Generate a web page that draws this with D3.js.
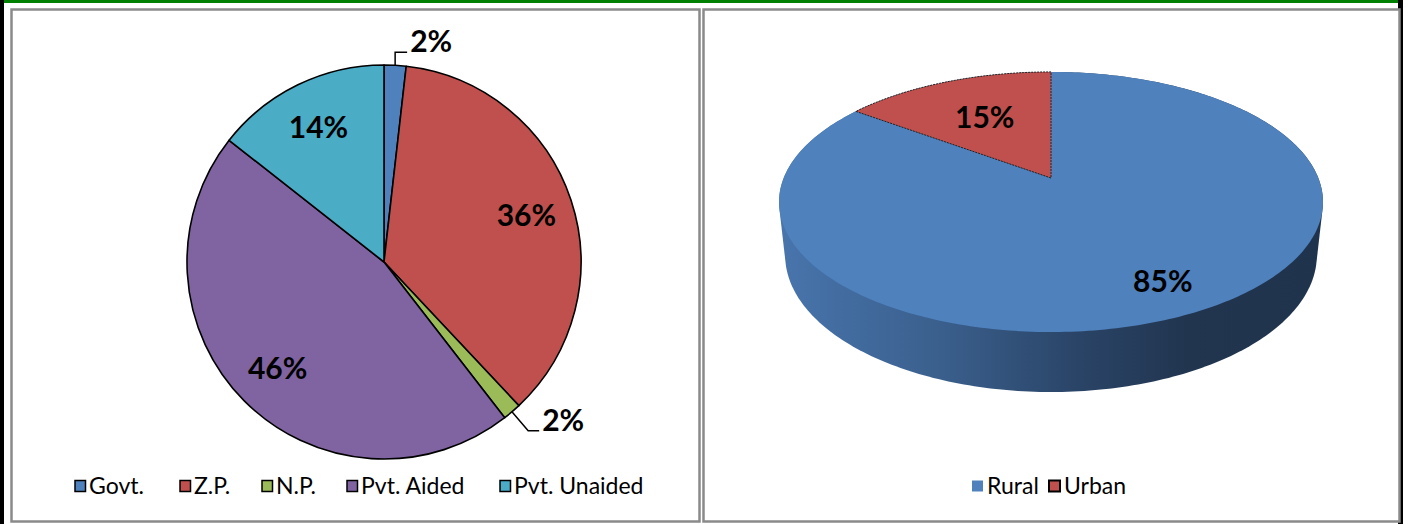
<!DOCTYPE html>
<html>
<head>
<meta charset="utf-8">
<script src="https://cdn.jsdelivr.net/npm/d3@7"></script>
<style>
  html, body { margin: 0; padding: 0; background: #ffffff; }
  svg { display: block; }
</style>
</head>
<body>
<script>
// ---------- data ----------
const schoolCategories = ["Govt.", "Z.P.", "N.P.", "Pvt. Aided", "Pvt. Unaided"];
const schoolValues = [1.8, 36.2, 1.5, 46.1, 14.4];
const schoolLabels = ["2%", "36%", "2%", "46%", "14%"];

const areaCategories = ["Rural", "Urban"];
const areaValues = [85, 15];
const areaLabels = ["85%", "15%"];

// ---------- styles ----------
const schoolColors = ["#4F81BD", "#C0504D", "#9BBB59", "#8064A2", "#4BACC6"];
const areaColors = ["#4F81BD", "#C0504D"];
const FONT = "Lato, 'Open Sans', sans-serif";

const W = 1428, H = 524;
const svg = d3.select("body").append("svg").attr("width", W).attr("height", H);

// frame decorations
svg.append("rect").attr("x", 0).attr("y", 0).attr("width", 1398).attr("height", 3).attr("fill", "#008000");
svg.append("rect").attr("x", 0).attr("y", 0).attr("width", 4).attr("height", H).attr("fill", "#000");
svg.append("rect").attr("x", 1398).attr("y", 0).attr("width", 5).attr("height", H).attr("fill", "#000");
svg.append("rect").attr("x", 11.5).attr("y", 9.5).attr("width", 688).attr("height", 512)
  .attr("fill", "#fff").attr("stroke", "#8a8a8a").attr("stroke-width", 2.5);
svg.append("rect").attr("x", 703.5).attr("y", 9.5).attr("width", 696).attr("height", 512)
  .attr("fill", "#fff").attr("stroke", "#8a8a8a").attr("stroke-width", 2.5);

// ---------- left 2D pie ----------
const cx1 = 384, cy1 = 262, R1 = 197;
const pie1 = d3.pie().sort(null).value(d => d)(schoolValues);
const arc1 = d3.arc().innerRadius(0).outerRadius(R1);
const labelArc1 = d3.arc().innerRadius(150).outerRadius(150);
const g1 = svg.append("g").attr("transform", `translate(${cx1},${cy1})`);
g1.selectAll("path.slice").data(pie1).enter().append("path")
  .attr("class", "slice")
  .attr("d", arc1)
  .attr("fill", (d, i) => schoolColors[i])
  .attr("stroke", "#000").attr("stroke-width", 1.6).attr("stroke-linejoin", "round");

const total1 = d3.sum(schoolValues);
pie1.forEach((d, i) => {
  const mid = (d.startAngle + d.endAngle) / 2;
  const share = d.value / total1;
  if (share > 0.05) {
    const c = labelArc1.centroid(d);
    g1.append("text").attr("x", c[0]).attr("y", c[1]).attr("dy", "0.36em")
      .attr("text-anchor", "middle").attr("font-family", FONT).attr("font-weight", 700)
      .attr("font-size", 30).attr("fill", "#000").text(schoolLabels[i]);
  } else {
    const ex = Math.sin(mid) * R1, ey = -Math.cos(mid) * R1;
    let p1, p2;
    if (Math.cos(mid) > 0) { // upper half: straight up, then right
      p1 = [ex, ey - 13];
      p2 = [ex + 12, ey - 13];
    } else { // lower half: outward, then right
      p1 = [ex + Math.sin(mid) * 25, ey - Math.cos(mid) * 25];
      p2 = [p1[0] + 11, p1[1]];
    }
    g1.append("path").attr("d", d3.line()([[ex, ey], p1, p2]))
      .attr("fill", "none").attr("stroke", "#000").attr("stroke-width", 1.5);
    g1.append("text").attr("x", p2[0] + 3).attr("y", p2[1])
      .attr("text-anchor", "start").attr("font-family", FONT).attr("font-weight", 700)
      .attr("font-size", 30).attr("fill", "#000").text(schoolLabels[i]);
  }
});

// left legend
const leg1X = [75, 180, 262, 347, 500];
const legY = 486;
schoolCategories.forEach((name, i) => {
  svg.append("rect").attr("x", leg1X[i]).attr("y", legY - 5.5).attr("width", 10.5).attr("height", 11)
    .attr("fill", schoolColors[i]).attr("stroke", "#000").attr("stroke-width", 1.5);
  svg.append("text").attr("x", leg1X[i] + 14).attr("y", legY).attr("dy", "0.36em")
    .attr("font-family", FONT).attr("font-size", 23).attr("fill", "#000").text(name);
});

// ---------- right 3D pie ----------
const cx2 = 1051, cy2 = 178;
const K = 1279.6, S = 0.47, C = 0.8827, DA = C / 0.1844, TH = 0.2275;
function proj(phi, r, y) {
  const x = r * Math.sin(phi), z = r * Math.cos(phi);
  const w = DA + z * C - y * S;
  return [cx2 + K * x / w, cy2 - K * (z * S + y * C) / w];
}
const pie2 = d3.pie().sort(null).value(d => d)(areaValues);

// side wall (hull of top and bottom rims)
const rim = [];
for (let k = 0; k <= 360; k++) {
  const phi = k * Math.PI / 180;
  rim.push(proj(phi, 1, 0));
  rim.push(proj(phi, 1, -TH));
}
const hull = d3.polygonHull(rim);
const defs = svg.append("defs");
const grad = defs.append("linearGradient").attr("id", "sideGrad")
  .attr("gradientUnits", "userSpaceOnUse").attr("x1", 779).attr("y1", 0).attr("x2", 1324).attr("y2", 0);
[["0%", "#4875ad"], ["30%", "#3a5f8c"], ["55%", "#2a4467"], ["75%", "#21354f"], ["100%", "#1f334d"]]
  .forEach(s => grad.append("stop").attr("offset", s[0]).attr("stop-color", s[1]));
svg.append("path").attr("d", "M" + hull.join("L") + "Z").attr("fill", "url(#sideGrad)");

// top faces
pie2.forEach((d, i) => {
  const pts = [proj(0, 0, 0)];
  const n = Math.max(8, Math.ceil((d.endAngle - d.startAngle) * 180 / Math.PI));
  for (let k = 0; k <= n; k++) {
    pts.push(proj(d.startAngle + (d.endAngle - d.startAngle) * k / n, 1, 0));
  }
  const p = svg.append("path").attr("d", "M" + pts.join("L") + "Z").attr("fill", areaColors[i]);
  if (i === 1) p.attr("stroke", "#222").attr("stroke-width", 1).attr("stroke-dasharray", "2,1");
});

// 3D labels
pie2.forEach((d, i) => {
  const mid = (d.startAngle + d.endAngle) / 2;
  const rr = d.value / d3.sum(areaValues) > 0.5 ? 0.8 : 0.6;
  const p = proj(mid, rr, 0);
  svg.append("text").attr("x", p[0]).attr("y", p[1]).attr("dy", "0.36em")
    .attr("text-anchor", "middle").attr("font-family", FONT).attr("font-weight", 700)
    .attr("font-size", 30).attr("fill", "#000").text(areaLabels[i]);
});

// right legend
const leg2X = [972, 1049];
areaCategories.forEach((name, i) => {
  const r = svg.append("rect").attr("x", leg2X[i]).attr("y", legY - 5.5).attr("width", 11).attr("height", 11)
    .attr("fill", areaColors[i]);
  if (i === 1) r.attr("stroke", "#000").attr("stroke-width", 2);
  svg.append("text").attr("x", leg2X[i] + 15).attr("y", legY).attr("dy", "0.36em")
    .attr("font-family", FONT).attr("font-size", 23).attr("fill", "#000").text(name);
});
</script>
</body>
</html>
